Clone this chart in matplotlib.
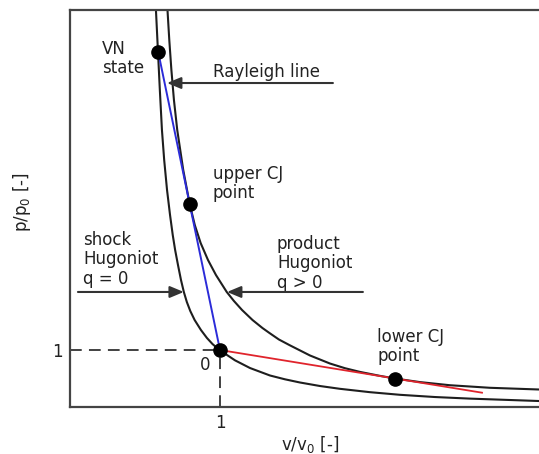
import matplotlib
matplotlib.use("Agg")
import matplotlib.pyplot as plt

plt.rcParams['font.family'] = ['DejaVu Sans']
plt.rcParams['mathtext.fontset'] = 'dejavusans'

# ---- data (in v/v0 and p/p0 units) ----
shock_v = [0.573, 0.586, 0.599, 0.613, 0.628, 0.647, 0.667, 0.685, 0.701, 0.720,
           0.740, 0.759, 0.779, 0.802, 0.831, 0.873, 0.913, 0.950, 0.973, 1.000,
           1.047, 1.100, 1.200, 1.333, 1.433, 1.533, 1.667, 1.800, 2.000, 2.200,
           2.433, 2.667, 3.127]
shock_p = [6.965, 6.263, 5.561, 4.860, 4.333, 3.807, 3.368, 3.018, 2.754, 2.491,
           2.228, 2.018, 1.842, 1.684, 1.526, 1.351, 1.211, 1.105, 1.053, 1.000,
           0.912, 0.819, 0.684, 0.553, 0.486, 0.430, 0.368, 0.319, 0.260, 0.214,
           0.175, 0.147, 0.105]

product_v = [0.650, 0.662, 0.676, 0.693, 0.715, 0.755, 0.798, 0.832, 0.871, 0.920,
             0.973, 1.045, 1.093, 1.147, 1.217, 1.283, 1.330, 1.393, 1.467, 1.600,
             1.733, 1.833, 1.933, 2.067, 2.167, 2.333, 2.533, 2.800, 3.127]
product_p = [6.965, 6.439, 5.912, 5.386, 4.860, 4.158, 3.561, 3.193, 2.877, 2.579,
             2.316, 2.018, 1.860, 1.702, 1.526, 1.386, 1.298, 1.184, 1.081, 0.904,
             0.763, 0.681, 0.616, 0.546, 0.500, 0.437, 0.382, 0.337, 0.307]

# Rayleigh lines
upper_v = [0.588, 0.798, 1.000]
upper_p = [6.230, 3.560, 1.000]
lower_v = [1.000, 2.167, 2.747]
lower_p = [1.000, 0.500, 0.251]

# special points: initial state, VN state, upper CJ, lower CJ
point_v = [1.000, 0.588, 0.798, 2.167]
point_p = [1.000, 6.230, 3.560, 0.500]

x_ticks = [1]
y_ticks = [1]
x_tick_labels = ['1']
y_tick_labels = ['1']

# ---- figure ----
fig = plt.figure(figsize=(5.39, 4.54), dpi=100)
ax = fig.add_axes([70/539, 47/454, 469/539, 397/454])
ax.set_xlim(0, 3.127)
ax.set_ylim(0, 6.965)

curve_col = '#1e1e1e'
ax.plot(shock_v, shock_p, color=curve_col, lw=1.5, solid_joinstyle='round')
ax.plot(product_v, product_p, color=curve_col, lw=1.5, solid_joinstyle='round')
ax.plot(upper_v, upper_p, color='#2b2bd8', lw=1.4)
ax.plot(lower_v, lower_p, color='#e0242c', lw=1.3)

# dashed reference lines to the initial state
ax.plot([0, point_v[0]], [point_p[0], point_p[0]], color='#333333', lw=1.3,
        dashes=(6.5, 4))
ax.plot([point_v[0], point_v[0]], [0, point_p[0]], color='#333333', lw=1.3,
        dashes=(6.5, 4))

ax.plot(point_v, point_p, 'o', color='black', markersize=9.5, zorder=5)

for s in ['left', 'bottom', 'top']:
    ax.spines[s].set_color('#444444')
    ax.spines[s].set_linewidth(1.6)
ax.spines['right'].set_visible(False)

ax.set_xticks(x_ticks)
ax.set_xticklabels(x_tick_labels)
ax.set_yticks(y_ticks)
ax.set_yticklabels(y_tick_labels)
ax.tick_params(length=0, pad=5, labelsize=12, colors='#222222')

ax.set_xlabel('v/v$_0$ [-]', fontsize=12, color='#222222')
ax.xaxis.set_label_coords(0.512, -0.068)
ax.set_ylabel('p/p$_0$ [-]', fontsize=12, color='#222222')
ax.yaxis.set_label_coords(-0.078, 0.517)

tc = '#222222'
fs = 12
ax.text(0.213, 6.44, 'VN\nstate', fontsize=fs, color=tc, ha='left', va='top',
        linespacing=1.07)
ax.text(0.953, 6.035, 'Rayleigh line', fontsize=fs, color=tc, ha='left', va='top')
ax.text(0.953, 4.246, 'upper CJ\npoint', fontsize=fs, color=tc, ha='left', va='top',
        linespacing=1.07)
ax.text(0.087, 3.09, 'shock\nHugoniot\nq = 0', fontsize=fs, color=tc, ha='left',
        va='top', linespacing=1.1)
ax.text(1.38, 3.02, 'product\nHugoniot\nq > 0', fontsize=fs, color=tc, ha='left',
        va='top', linespacing=1.1)
ax.text(2.047, 1.386, 'lower CJ\npoint', fontsize=fs, color=tc, ha='left', va='top',
        linespacing=1.07)
ax.text(0.867, 0.90, '0', fontsize=fs, color=tc, ha='left', va='top')

arrow = dict(arrowstyle='-|>,head_length=0.6,head_width=0.25', color='#333333',
             lw=1.5, mutation_scale=14, shrinkA=0, shrinkB=0)
ax.annotate('', xy=(0.647, 5.684), xytext=(1.753, 5.684), arrowprops=arrow)
ax.annotate('', xy=(0.759, 2.018), xytext=(0.053, 2.018), arrowprops=arrow)
ax.annotate('', xy=(1.047, 2.018), xytext=(1.953, 2.018), arrowprops=arrow)

fig.savefig('out.png', dpi=100)
